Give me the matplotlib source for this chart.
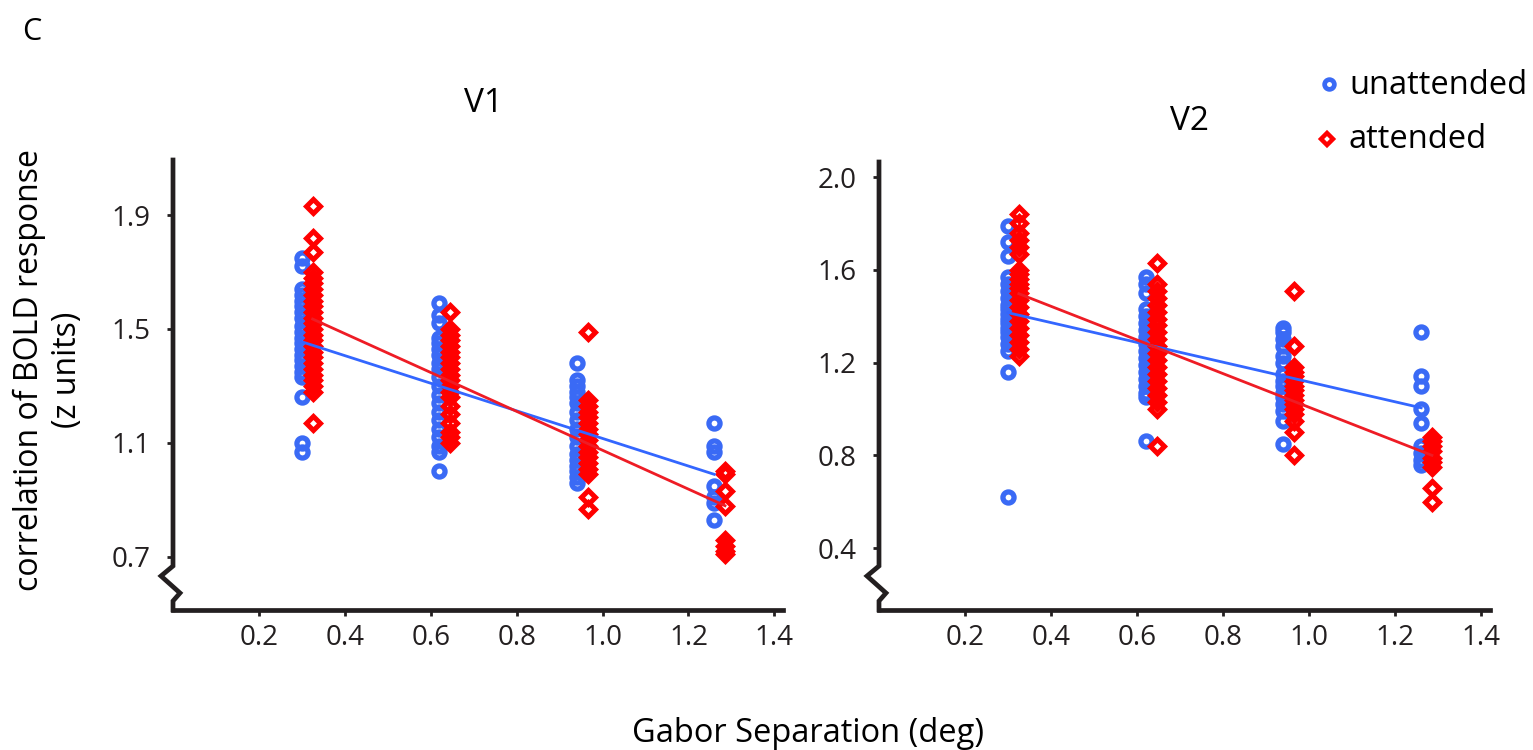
import matplotlib
matplotlib.use("Agg")
import matplotlib.pyplot as plt
import numpy as np

plt.rcParams['font.family'] = ['Open Sans', 'DejaVu Sans']

# ---------------- data ----------------
sep_unatt = [0.30, 0.62, 0.94, 1.26]
sep_att = [0.325, 0.645, 0.965, 1.285]

v1_unatt = [
    [1.75, 1.72, 1.64, 1.62, 1.60, 1.58, 1.56, 1.54, 1.51, 1.49, 1.47, 1.45, 1.43,
     1.41, 1.39, 1.37, 1.35, 1.33, 1.26, 1.10, 1.07],
    [1.59, 1.55, 1.52, 1.47, 1.45, 1.43, 1.41, 1.38, 1.36, 1.33, 1.30, 1.27, 1.24,
     1.21, 1.18, 1.15, 1.12, 1.09, 1.07, 1.00],
    [1.38, 1.32, 1.30, 1.28, 1.26, 1.24, 1.21, 1.18, 1.15, 1.12, 1.09, 1.06, 1.04,
     1.02, 1.00, 0.98, 0.96],
    [1.17, 1.09, 1.07, 0.95, 0.91, 0.89, 0.83],
]
v1_att = [
    [1.93, 1.82, 1.77, 1.70, 1.68, 1.66, 1.64, 1.62, 1.60, 1.58, 1.56, 1.54, 1.52,
     1.50, 1.48, 1.46, 1.44, 1.42, 1.40, 1.38, 1.36, 1.34, 1.32, 1.30, 1.28, 1.17],
    [1.56, 1.50, 1.48, 1.46, 1.44, 1.42, 1.40, 1.38, 1.36, 1.34, 1.32, 1.30, 1.28,
     1.26, 1.23, 1.20, 1.17, 1.14, 1.12, 1.10],
    [1.49, 1.25, 1.23, 1.21, 1.19, 1.17, 1.15, 1.13, 1.11, 1.09, 1.07, 1.05, 1.03,
     1.01, 0.99, 0.91, 0.87],
    [1.00, 0.99, 0.93, 0.88, 0.76, 0.74, 0.72, 0.71],
]
v1_fit_unatt = [1.455, 0.99]
v1_fit_att = [1.535, 0.88]

v2_unatt = [
    [1.79, 1.72, 1.66, 1.57, 1.54, 1.51, 1.48, 1.45, 1.43, 1.41, 1.39, 1.37, 1.35,
     1.33, 1.31, 1.28, 1.25, 1.16, 0.62],
    [1.57, 1.54, 1.50, 1.43, 1.40, 1.37, 1.34, 1.31, 1.28, 1.25, 1.22, 1.19, 1.16,
     1.13, 1.10, 1.07, 1.05, 0.86],
    [1.35, 1.33, 1.30, 1.27, 1.23, 1.20, 1.15, 1.12, 1.10, 1.07, 1.05, 1.02, 0.99,
     0.95, 0.85],
    [1.33, 1.14, 1.10, 1.00, 0.94, 0.84, 0.81, 0.78, 0.76],
]
v2_att = [
    [1.84, 1.80, 1.76, 1.73, 1.70, 1.67, 1.60, 1.58, 1.56, 1.54, 1.52, 1.50, 1.47,
     1.44, 1.41, 1.38, 1.35, 1.32, 1.29, 1.26, 1.23],
    [1.63, 1.54, 1.51, 1.48, 1.45, 1.42, 1.39, 1.36, 1.33, 1.30, 1.27, 1.24, 1.21,
     1.18, 1.15, 1.12, 1.09, 1.06, 1.03, 1.00, 0.84],
    [1.51, 1.27, 1.18, 1.16, 1.14, 1.12, 1.10, 1.08, 1.06, 1.04, 1.02, 1.00, 0.98,
     0.95, 0.90, 0.80],
    [0.88, 0.86, 0.84, 0.82, 0.79, 0.77, 0.75, 0.66, 0.60],
]
v2_fit_unatt = [1.415, 1.005]
v2_fit_att = [1.497, 0.80]

xticks = [0.2, 0.4, 0.6, 0.8, 1.0, 1.2, 1.4]
xticklabels = ['0.2', '0.4', '0.6', '0.8', '1.0', '1.2', '1.4']
v1_yticks = [0.7, 1.1, 1.5, 1.9]
v1_yticklabels = ['0.7', '1.1', '1.5', '1.9']
v2_yticks = [0.4, 0.8, 1.2, 1.6, 2.0]
v2_yticklabels = ['0.4', '0.8', '1.2', '1.6', '2.0']

BLUE = '#3a6af5'
RED = '#ff0000'
BLUE_LINE = '#3366ff'
RED_LINE = '#ee1c25'
AXC = '#231f20'

W, H = 1533, 750
fig = plt.figure(figsize=(W / 100, H / 100), dpi=100)


def make_axes(left_px, right_px, top_px, bottom_px):
    return fig.add_axes([left_px / W, 1 - bottom_px / H,
                         (right_px - left_px) / W, (bottom_px - top_px) / H])


def draw_panel(ax, unatt, att, fit_u, fit_a, ylim, yticks, yticklabels, wpx, hpx):
    for xu, gu in zip(sep_unatt, unatt):
        ax.plot([xu] * len(gu), gu, linestyle='none', marker='o', ms=8.0,
                mfc='none', mec=BLUE, mew=3.8, zorder=2, clip_on=False)
    for xa, ga in zip(sep_att, att):
        ax.plot([xa] * len(ga), ga, linestyle='none', marker='D', ms=7.6,
                mfc='none', mec=RED, mew=3.6, zorder=3, clip_on=False)
    ax.plot([sep_unatt[0], sep_unatt[-1]], fit_u, color=BLUE_LINE, lw=2.0, zorder=4)
    ax.plot([sep_att[0], sep_att[-1]], fit_a, color=RED_LINE, lw=2.0, zorder=5)

    ax.set_xlim(0, 1.42)
    ax.set_ylim(*ylim)
    ax.set_xticks(xticks)
    ax.set_xticklabels(xticklabels)
    ax.set_yticks(yticks)
    ax.set_yticklabels(yticklabels)
    for s in ['top', 'right', 'left']:
        ax.spines[s].set_visible(False)
    ax.spines['bottom'].set_linewidth(3.4)
    ax.spines['bottom'].set_color(AXC)
    ax.spines['bottom'].set_capstyle('projecting')
    ax.tick_params(axis='both', direction='out', length=4, width=2, color=AXC,
                   labelsize=20, labelcolor='#231f20')
    ax.tick_params(axis='y', pad=12)
    ax.tick_params(axis='x', pad=6)
    ax.patch.set_visible(False)

    # left spine with break zigzag (pixel offsets converted to axes fraction)
    px = [0, 0, -12, 7, 0, 0]
    py = [hpx, 44, 34, 17, 9, 0]
    ax.plot([p / wpx for p in px], [p / hpx for p in py], transform=ax.transAxes,
            color=AXC, lw=3.4, clip_on=False, solid_joinstyle='miter',
            solid_capstyle='projecting', zorder=6)


ax1 = make_axes(173, 783, 160, 610)
draw_panel(ax1, v1_unatt, v1_att, v1_fit_unatt, v1_fit_att, (0.514, 2.093),
           v1_yticks, v1_yticklabels, 610, 450)
ax2 = make_axes(879, 1490, 162, 610)
draw_panel(ax2, v2_unatt, v2_att, v2_fit_unatt, v2_fit_att, (0.133, 2.065),
           v2_yticks, v2_yticklabels, 611, 448)

fig.text(483 / W, 1 - 103 / H, 'V1', ha='center', va='center', fontsize=24)
fig.text(1190 / W, 1 - 122 / H, 'V2', ha='center', va='center', fontsize=24)
fig.text(22 / W, 1 - 32 / H, 'C', ha='left', va='center', fontsize=22)
fig.text(808 / W, 1 - 733 / H, 'Gabor Separation (deg)', ha='center', va='center',
         fontsize=23.5)
fig.text(48 / W, 1 - 370 / H, 'correlation of BOLD response\n(z units)',
         ha='center', va='center', rotation=90, fontsize=23, linespacing=1.2)

# legend
fig.lines.append(plt.Line2D([1329 / W], [1 - 84 / H], transform=fig.transFigure,
                            marker='o', ms=7.0, mfc='none', mec=BLUE, mew=3.4,
                            linestyle='none'))
fig.lines.append(plt.Line2D([1327 / W], [1 - 139 / H], transform=fig.transFigure,
                            marker='D', ms=6.5, mfc='none', mec=RED, mew=3.2,
                            linestyle='none'))
fig.text(1349 / W, 1 - 86 / H, 'unattended', ha='left', va='center', fontsize=23.5)
fig.text(1349 / W, 1 - 139 / H, 'attended', ha='left', va='center', fontsize=23.5)

fig.savefig('out.png', dpi=100)
